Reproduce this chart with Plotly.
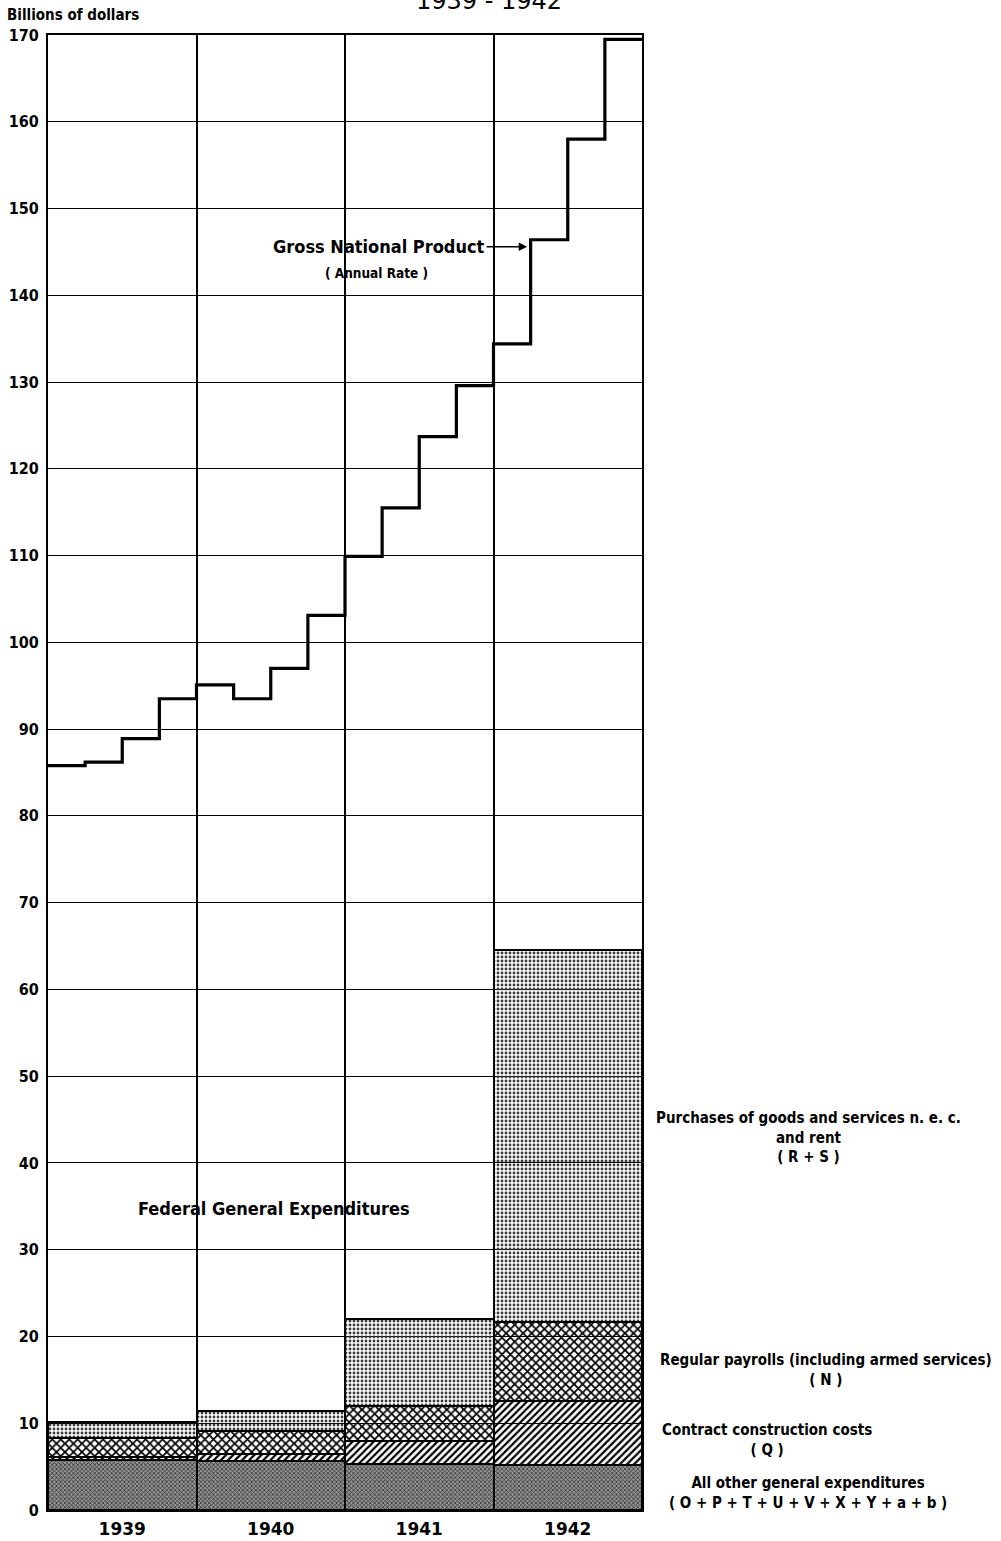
import plotly.graph_objects as go

# ---------------- data ----------------
years = ["1939", "1940", "1941", "1942"]
quarters = ["Q1", "Q2", "Q3", "Q4"]

# Gross National Product, quarterly, annual rate (billions of dollars)
gnp_1939 = [85.8, 86.2, 88.9, 93.5]
gnp_1940 = [95.1, 93.5, 97.0, 103.1]
gnp_1941 = [109.9, 115.5, 123.7, 129.6]
gnp_1942 = [134.4, 146.4, 158.0, 169.5]

# Federal general expenditures, components (billions of dollars)
all_other = [5.8, 5.7, 5.3, 5.2]
construction = [0.3, 0.8, 2.7, 7.4]
payrolls = [2.2, 2.6, 4.0, 9.1]
purchases = [1.9, 2.3, 10.0, 42.9]

y_ticks = list(range(0, 171, 10))

# ---------------- figure ----------------
FONT_TXT = "DejaVu Sans Condensed"
FONT_NUM = "DejaVu Sans"

year_pos = [i + 0.5 for i in range(len(years))]

fig = go.Figure()

def add_bar(name, vals, pattern):
    fig.add_trace(go.Bar(
        x=year_pos, y=vals, width=1.0, name=name,
        marker=dict(color="rgba(255,255,255,0)",
                    line=dict(color="black", width=2),
                    pattern=pattern),
        showlegend=False, hoverinfo="y+name",
    ))

add_bar("All other general expenditures", all_other,
        dict(shape="x", size=3, solidity=0.45, fgcolor="#333333",
             bgcolor="#949494", fillmode="replace"))
add_bar("Contract construction costs", construction,
        dict(shape="/", size=5, solidity=0.45, fgcolor="black",
             bgcolor="rgba(255,255,255,0)", fillmode="replace"))
add_bar("Regular payrolls", payrolls,
        dict(shape="x", size=6, solidity=0.5, fgcolor="black",
             bgcolor="rgba(255,255,255,0)", fillmode="replace"))
add_bar("Purchases of goods and services", purchases,
        dict(shape=".", size=4, solidity=0.4, fgcolor="#3a3a3a",
             bgcolor="rgba(255,255,255,0)", fillmode="replace"))

# GNP step line
gnp_all = gnp_1939 + gnp_1940 + gnp_1941 + gnp_1942
gnp_x = [yi + qi / len(quarters) for yi in range(len(years)) for qi in range(len(quarters))]
gnp_x_plot = gnp_x + [len(years)]
gnp_y_plot = gnp_all + [gnp_all[-1]]
fig.add_trace(go.Scatter(
    x=gnp_x_plot, y=gnp_y_plot, mode="lines",
    line=dict(color="black", width=3.2, shape="hv"),
    showlegend=False, name="Gross National Product",
))

fig.update_layout(
    width=1001, height=1541,
    margin=dict(l=48, r=359, t=35, b=31),
    paper_bgcolor="white", plot_bgcolor="white",
    barmode="stack", bargap=0,
    showlegend=False,
    font=dict(family=FONT_TXT, color="black"),
)

fig.update_xaxes(
    range=[0, len(years)], automargin=False,
    tickmode="array", tickvals=year_pos, ticktext=years,
    tickfont=dict(family=FONT_NUM, size=17, color="black", weight="bold"),
    ticks="", showgrid=False, zeroline=False,
    showline=True, linecolor="black", linewidth=2, mirror=True,
    minor=dict(tickmode="array", tickvals=list(range(len(years) + 1)),
               showgrid=True, gridcolor="black", gridwidth=1.5, ticks=""),
    ticklabelstandoff=3,
)
fig.update_yaxes(
    range=[0, 170], automargin=False,
    tickmode="array", tickvals=y_ticks, ticktext=[str(v) for v in y_ticks],
    tickfont=dict(family=FONT_TXT, size=16, color="black", weight="bold"),
    ticks="", showgrid=True, gridcolor="black", gridwidth=1.2,
    zeroline=False,
    showline=True, linecolor="black", linewidth=2, mirror=True,
    ticklabelstandoff=4,
)

ann = []
# top-left unit label
ann.append(dict(text="<b>Billions of dollars</b>", xref="paper", yref="paper",
                x=-0.072, y=1.0136, xanchor="left", yanchor="middle",
                showarrow=False, font=dict(family=FONT_TXT, size=15)))
# title (cut off at the top edge, as in the source page)
ann.append(dict(text="1939 - 1942", xref="paper", yref="paper",
                x=0.742, y=1.0125, xanchor="center", yanchor="bottom",
                showarrow=False, font=dict(family=FONT_NUM, size=24)))
# GNP label with arrow
ann.append(dict(text="<b>Gross National Product</b>", xref="x", yref="y",
                x=3.24, y=145.6, ax=-150, ay=0, axref="pixel", ayref="pixel",
                showarrow=True, arrowhead=2, arrowsize=1.2, arrowwidth=1.4,
                arrowcolor="black", standoff=2,
                font=dict(family=FONT_TXT, size=18)))
ann.append(dict(text="<b>( Annual Rate )</b>", xref="x", yref="y",
                x=2.21, y=142.6, showarrow=False,
                font=dict(family=FONT_TXT, size=13.5)))
ann.append(dict(text="<b>Federal General Expenditures</b>", xref="x", yref="y",
                x=1.52, y=34.8, showarrow=False,
                font=dict(family=FONT_TXT, size=18)))

# right-side component labels
right = [
    ("Purchases of goods and services n. e. c.<br>and rent<br>( R + S )", 1.2795, 42.9),
    ("Regular payrolls (including armed services)<br>( N )", 1.3095, 16.1),
    ("Contract construction costs<br>( Q )", 1.21, 8.1),
    ("All other general expenditures<br>( O + P + T + U + V + X + Y + a + b )", 1.2795, 2.0),
]
for txt, xp, yv in right:
    ann.append(dict(text=txt, xref="paper", yref="y", x=xp, y=yv,
                    xanchor="center", yanchor="middle", align="center",
                    showarrow=False,
                    font=dict(family=FONT_TXT, size=15, weight="bold")))

fig.update_layout(annotations=ann)

fig.write_html(
    "out.html",
    config={"displayModeBar": False},
    post_script="document.body.style.margin='0';document.body.style.padding='0';"
                "document.documentElement.style.margin='0';",
)
